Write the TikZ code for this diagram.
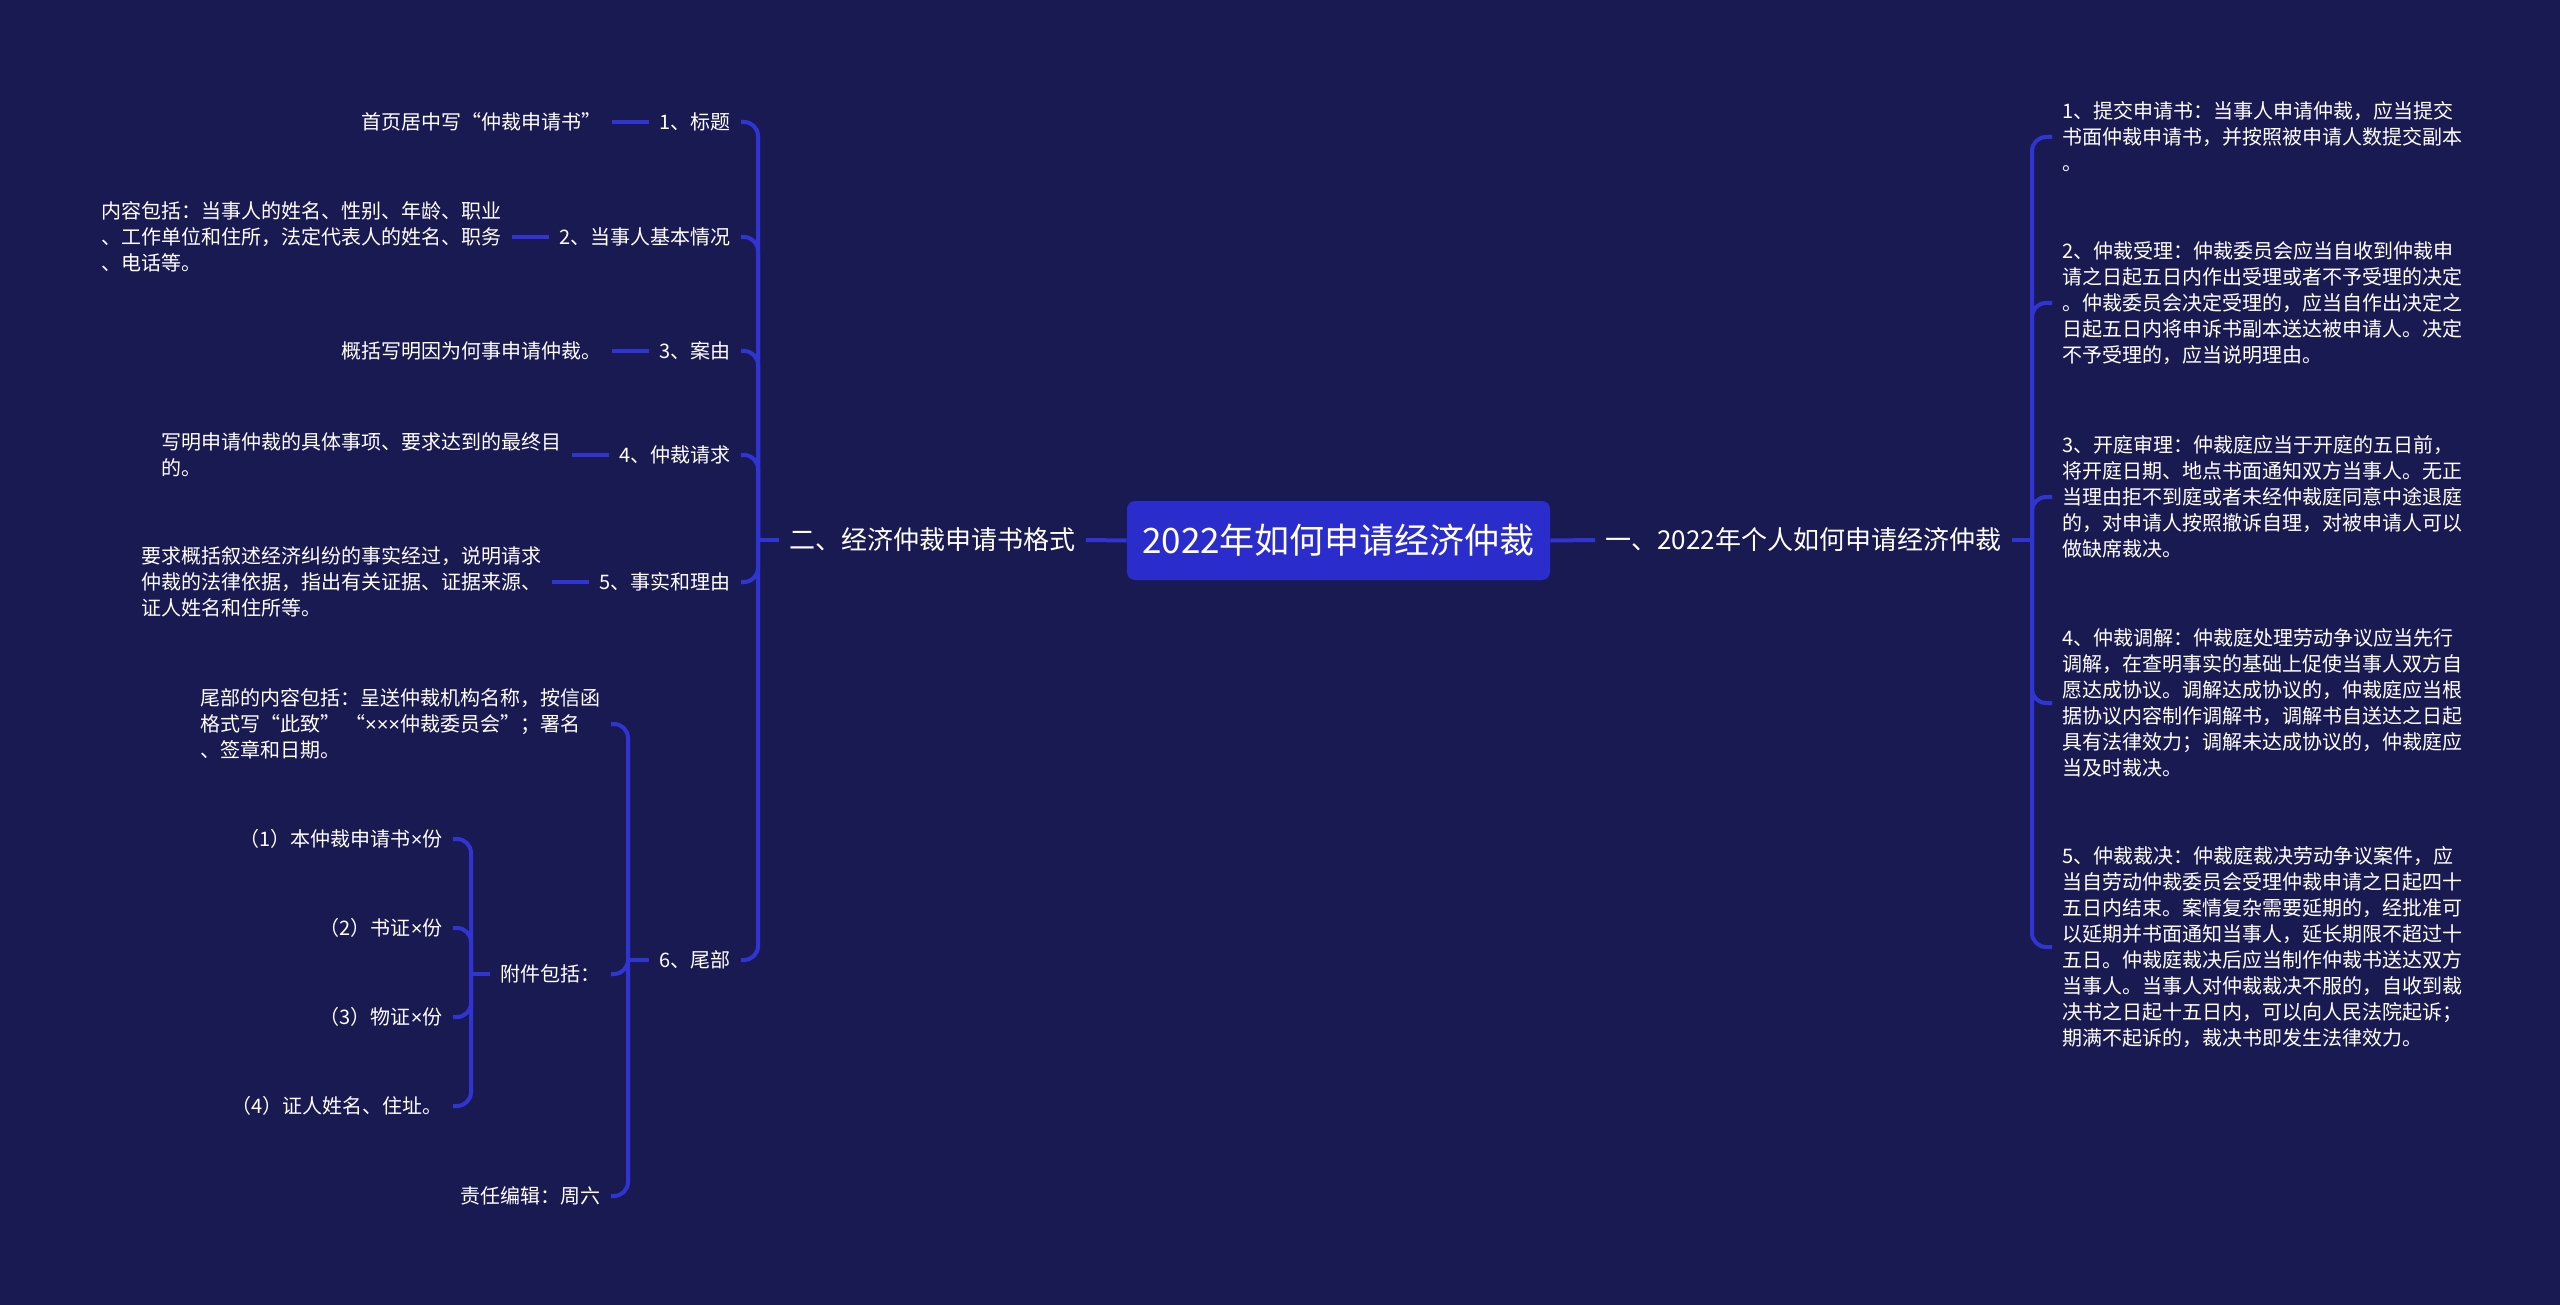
\documentclass[tikz,border=0pt]{standalone}
\usepackage{fontspec}
\setmainfont{Noto Sans CJK SC}
\newfontfamily\latinf{Liberation Sans}
\newcommand{\tms}{{\latinf ×}}
\usetikzlibrary{positioning}
\definecolor{bgc}{HTML}{1A1A52}
\definecolor{lnc}{HTML}{2F34D2}
\definecolor{rootc}{HTML}{2A2DCB}
\begin{document}
\begin{tikzpicture}[x=0.5pt,y=-0.5pt,
  conn/.style={draw=lnc,line width=2pt,rounded corners=7pt},
  lbl/.style={text=white,font=\fontsize{10pt}{13pt}\selectfont,inner xsep=5pt,inner ysep=2pt,align=left},
  mainlbl/.style={text=white,font=\fontsize{13pt}{16pt}\selectfont,inner xsep=5pt,inner ysep=2pt},
  rootbox/.style={fill=rootc,rounded corners=4pt,text=white,font=\fontsize{17.5pt}{20pt}\selectfont,minimum width=211.5pt,minimum height=39.5pt,inner sep=0pt}]
\fill[bgc] (0,0) rectangle (2560,1305);
\useasboundingbox (0,0) rectangle (2560,1305);

% root and main branches
\node[rootbox] (root) at (1338.5,540.5) {2022年如何申请经济仲裁};
\node[mainlbl,anchor=east] (L) at (1086,540) {二、经济仲裁申请书格式};
\node[mainlbl,anchor=west] (R) at (1595,540) {一、2022年个人如何申请经济仲裁};
\draw[conn] (root.west) -- (L.east);
\draw[conn] (root.east) -- (R.west);

% left bracket
\coordinate (lb) at (758,540);
\draw[conn] (L.west) -- (lb);
\node[lbl,anchor=east] (l1) at (741,122) {1、标题};
\node[lbl,anchor=east] (l2) at (741,237) {2、当事人基本情况};
\node[lbl,anchor=east] (l3) at (741,351) {3、案由};
\node[lbl,anchor=east] (l4) at (741,455) {4、仲裁请求};
\node[lbl,anchor=east] (l5) at (741,582) {5、事实和理由};
\node[lbl,anchor=east] (l6) at (741,960) {6、尾部};
\foreach \n in {l1,l2,l3,l4,l5,l6} \draw[conn] (lb) |- (\n.east);

% leaves of left labels
\node[lbl,left=18.5pt of l1] (a1) {首页居中写“仲裁申请书”};
\node[lbl,left=18.5pt of l2] (a2) {内容包括：当事人的姓名、性别、年龄、职业\\、工作单位和住所，法定代表人的姓名、职务\\、电话等。};
\node[lbl,left=18.5pt of l3] (a3) {概括写明因为何事申请仲裁。};
\node[lbl,left=18.5pt of l4] (a4) {写明申请仲裁的具体事项、要求达到的最终目\\的。};
\node[lbl,left=18.5pt of l5] (a5) {要求概括叙述经济纠纷的事实经过，说明请求\\仲裁的法律依据，指出有关证据、证据来源、\\证人姓名和住所等。};
\draw[conn] (a1.east) -- (l1.west);
\draw[conn] (a2.east) -- (l2.west);
\draw[conn] (a3.east) -- (l3.west);
\draw[conn] (a4.east) -- (l4.west);
\draw[conn] (a5.east) -- (l5.west);

% footer sub-bracket
\coordinate (fb) at (628,960);
\draw[conn] (l6.west) -- (fb);
\node[lbl,anchor=east] (f1) at (611,724) {尾部的内容包括：呈送仲裁机构名称，按信函\\格式写“此致” “\tms\tms\tms 仲裁委员会”；署名\\、签章和日期。};
\node[lbl,anchor=east] (f2) at (611,974) {附件包括：};
\node[lbl,anchor=east] (f3) at (611,1196) {责任编辑：周六};
\foreach \n in {f1,f2,f3} \draw[conn] (fb) |- (\n.east);

% attachments sub-bracket
\coordinate (ab) at (471,974);
\draw[conn] (f2.west) -- (ab);
\node[lbl,anchor=east] (g1) at (453,839) {（1）本仲裁申请书\tms 份};
\node[lbl,anchor=east] (g2) at (453,928) {（2）书证\tms 份};
\node[lbl,anchor=east] (g3) at (453,1017) {（3）物证\tms 份};
\node[lbl,anchor=east] (g4) at (453,1106) {（4）证人姓名、住址。};
\foreach \n in {g1,g2,g3,g4} \draw[conn] (ab) |- (\n.east);

% right bracket
\coordinate (rb) at (2032,540);
\draw[conn] (R.east) -- (rb);
\node[lbl,anchor=west] (r1) at (2052,137) {1、提交申请书：当事人申请仲裁，应当提交\\书面仲裁申请书，并按照被申请人数提交副本\\。};
\node[lbl,anchor=west] (r2) at (2052,303) {2、仲裁受理：仲裁委员会应当自收到仲裁申\\请之日起五日内作出受理或者不予受理的决定\\。仲裁委员会决定受理的，应当自作出决定之\\日起五日内将申诉书副本送达被申请人。决定\\不予受理的，应当说明理由。};
\node[lbl,anchor=west] (r3) at (2052,497) {3、开庭审理：仲裁庭应当于开庭的五日前，\\将开庭日期、地点书面通知双方当事人。无正\\当理由拒不到庭或者未经仲裁庭同意中途退庭\\的，对申请人按照撤诉自理，对被申请人可以\\做缺席裁决。};
\node[lbl,anchor=west] (r4) at (2052,703) {4、仲裁调解：仲裁庭处理劳动争议应当先行\\调解，在查明事实的基础上促使当事人双方自\\愿达成协议。调解达成协议的，仲裁庭应当根\\据协议内容制作调解书，调解书自送达之日起\\具有法律效力；调解未达成协议的，仲裁庭应\\当及时裁决。};
\node[lbl,anchor=west] (r5) at (2052,947) {5、仲裁裁决：仲裁庭裁决劳动争议案件，应\\当自劳动仲裁委员会受理仲裁申请之日起四十\\五日内结束。案情复杂需要延期的，经批准可\\以延期并书面通知当事人，延长期限不超过十\\五日。仲裁庭裁决后应当制作仲裁书送达双方\\当事人。当事人对仲裁裁决不服的，自收到裁\\决书之日起十五日内，可以向人民法院起诉；\\期满不起诉的，裁决书即发生法律效力。};
\foreach \n in {r1,r2,r3,r4,r5} \draw[conn] (rb) |- (\n.west);
\end{tikzpicture}
\end{document}
